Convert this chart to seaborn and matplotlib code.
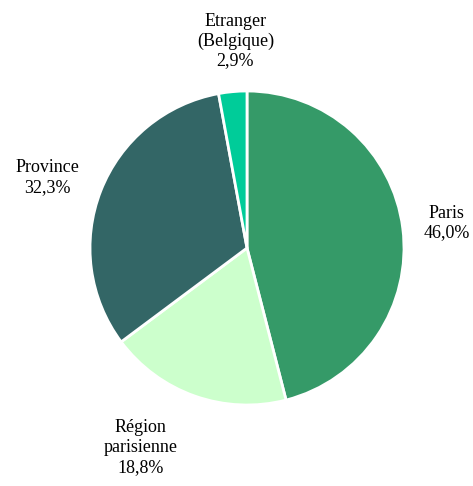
import numpy as np
import matplotlib
matplotlib.use("Agg")
import matplotlib.pyplot as plt
import seaborn as sns

categories = ["Paris", "Région\nparisienne", "Province", "Etranger\n(Belgique)"]
values = [46.0, 18.8, 32.3, 2.9]
colors = ["#359a68", "#ccffcc", "#336666", "#00cc99"]
label_dist = [1.28, 1.44, 1.35, 1.32]
label_angle_shift = [0.0, -8.6, 2.0, -2.0]

sns.set_theme(style="white")
plt.rcParams['font.family'] = ['Liberation Serif', 'DejaVu Serif']

fig = plt.figure(figsize=(4.73, 4.86), dpi=100)
ax = fig.add_axes([90/473, 81/486, 314/473, 314/486])
wedges, _ = ax.pie(values, colors=colors, startangle=90, counterclock=False,
                   wedgeprops=dict(edgecolor="white", linewidth=2))
ax.set_xlim(-1, 1)
ax.set_ylim(-1, 1)
ax.set_aspect("equal")
ax.axis("off")

for w, cat, v, d, s in zip(wedges, categories, values, label_dist, label_angle_shift):
    ang = np.deg2rad((w.theta1 + w.theta2) / 2 + s)
    x, y = d * np.cos(ang), d * np.sin(ang)
    txt = f"{cat}\n{v:.1f}%".replace(".", ",")
    ax.text(x, y, txt, ha="center", va="center", fontsize=13,
            linespacing=1.2, color="black", clip_on=False)

fig.savefig("out.png", dpi=100)
